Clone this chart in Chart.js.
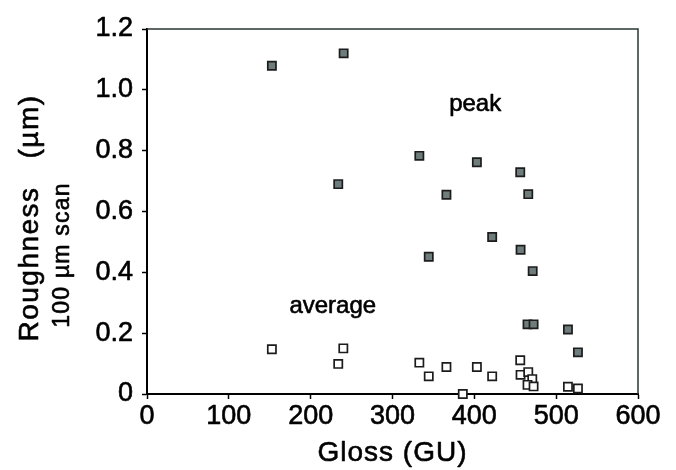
<!DOCTYPE html>
<html>
<head>
<meta charset="utf-8">
<script src="https://cdn.jsdelivr.net/npm/chart.js@4.4.1/dist/chart.umd.min.js"></script>
<style>
  html, body { margin:0; padding:0; background:#fff; }
  #wrap { width:676px; height:470px; }
</style>
</head>
<body>
<div id="wrap"><canvas id="chart" width="676" height="470"></canvas></div>
<script>
// Gloss (GU) vs roughness (µm)
const peakGloss  = [152.6, 240.3, 233.7, 332.8, 403.1, 456.1, 365.9, 465.9, 421.8, 456.5, 344.3, 471.3, 465.0, 472.4, 514.4, 526.6];
const peakRough  = [1.079, 1.120, 0.690, 0.783, 0.762, 0.729, 0.655, 0.657, 0.516, 0.474, 0.451, 0.404, 0.229, 0.229, 0.212, 0.137];

const avgGloss   = [152.6, 239.9, 233.7, 332.8, 344.3, 365.9, 403.1, 421.8, 385.9, 456.1, 456.5, 465.9, 470.8, 465.0, 472.4, 514.4, 526.6];
const avgRough   = [0.147, 0.150, 0.099, 0.103, 0.058, 0.089, 0.089, 0.058, 0.000, 0.111, 0.063, 0.072, 0.049, 0.030, 0.025, 0.024, 0.018];

const xTickValues = [0, 100, 200, 300, 400, 500, 600];
const xTickLabels = ['0', '100', '200', '300', '400', '500', '600'];
const yTickValues = [0, 0.2, 0.4, 0.6, 0.8, 1.0, 1.2];
const yTickLabels = ['0', '0.2', '0.4', '0.6', '0.8', '1.0', '1.2'];

const seriesNames = ['peak', 'average'];
// in-plot labels, anchored in data units
const noteText = ['peak', 'average'];
const noteX    = [401, 227];
const noteY    = [0.951, 0.287];

const FONT = "'Liberation Sans', Arial, sans-serif";

const toPts = (xs, ys) => xs.map((x, i) => ({ x, y: ys[i] }));

// fill plus a hairline stroke, the source text is a bit heavier than plain Arial
function heavyText(ctx, t, x, y) {
  ctx.fillText(t, x, y);
  ctx.strokeText(t, x, y);
}

// frame, tick labels, axis titles, in-plot notes
const extras = {
  id: 'extras',
  afterDraw(chart) {
    const { ctx, chartArea: a, scales: { x, y } } = chart;
    ctx.save();
    ctx.strokeStyle = '#2b3535';
    ctx.lineWidth = 1.5;
    ctx.beginPath();
    ctx.moveTo(a.left, a.top);
    ctx.lineTo(a.right, a.top);
    ctx.lineTo(a.right, a.bottom);
    ctx.stroke();

    ctx.fillStyle = '#000';
    ctx.strokeStyle = '#000';
    ctx.lineWidth = 0.6;
    ctx.lineJoin = 'round';

    // tick labels
    ctx.font = '27px ' + FONT;
    ctx.textAlign = 'center';
    ctx.textBaseline = 'top';
    xTickValues.forEach((v, i) => heavyText(ctx, xTickLabels[i], x.getPixelForValue(v), a.bottom + 9));
    ctx.textAlign = 'right';
    ctx.textBaseline = 'middle';
    yTickValues.forEach((v, i) => heavyText(ctx, yTickLabels[i], a.left - 14, y.getPixelForValue(v)));

    ctx.textAlign = 'center';
    ctx.font = '24px ' + FONT;
    noteText.forEach((t, i) => {
      heavyText(ctx, t, x.getPixelForValue(noteX[i]), y.getPixelForValue(noteY[i]));
    });

    ctx.letterSpacing = '1px';
    ctx.font = '28px ' + FONT;
    heavyText(ctx, 'Gloss (GU)', (a.left + a.right) / 2, 453);

    ctx.translate(30, 218);
    ctx.rotate(-Math.PI / 2);
    ctx.letterSpacing = '1.5px';
    heavyText(ctx, 'Roughness   (\u00b5m)', 0, 0);
    ctx.font = '23px ' + FONT;
    ctx.letterSpacing = '1.2px';
    heavyText(ctx, '100 \u00b5m scan', -37, 33);
    ctx.restore();
  }
};

const pointStyle = {
  pointStyle: 'rect',
  pointRadius: 5.8,
  pointHoverRadius: 5.8,
  borderColor: '#1c1c1c',
  borderWidth: 1.7,
  showLine: false,
  clip: false
};

new Chart(document.getElementById('chart'), {
  type: 'scatter',
  data: {
    datasets: [
      { label: seriesNames[1], data: toPts(avgGloss, avgRough), backgroundColor: '#ffffff', ...pointStyle },
      { label: seriesNames[0], data: toPts(peakGloss, peakRough), backgroundColor: '#6f7c7c', ...pointStyle }
    ]
  },
  options: {
    responsive: false,
    devicePixelRatio: 1,
    animation: false,
    layout: { padding: { top: 29, right: 38, left: 0, bottom: 0 } },
    plugins: { legend: { display: false }, tooltip: { enabled: false } },
    scales: {
      x: {
        type: 'linear', min: 0, max: 600,
        afterFit(s) { s.height = 76; },
        afterBuildTicks(s) { s.ticks = xTickValues.map(v => ({ value: v })); },
        grid: { display: true, drawOnChartArea: false, drawTicks: true, tickLength: 5, tickColor: '#000', tickWidth: 1.5 },
        border: { display: true, color: '#000', width: 2 },
        ticks: { display: false }
      },
      y: {
        type: 'linear', min: 0, max: 1.2,
        afterFit(s) { s.width = 147; },
        afterBuildTicks(s) { s.ticks = yTickValues.map(v => ({ value: v })); },
        grid: { display: true, drawOnChartArea: false, drawTicks: true, tickLength: 5, tickColor: '#000', tickWidth: 1.5 },
        border: { display: true, color: '#000', width: 2 },
        ticks: { display: false }
      }
    }
  },
  plugins: [extras]
});
</script>
</body>
</html>
